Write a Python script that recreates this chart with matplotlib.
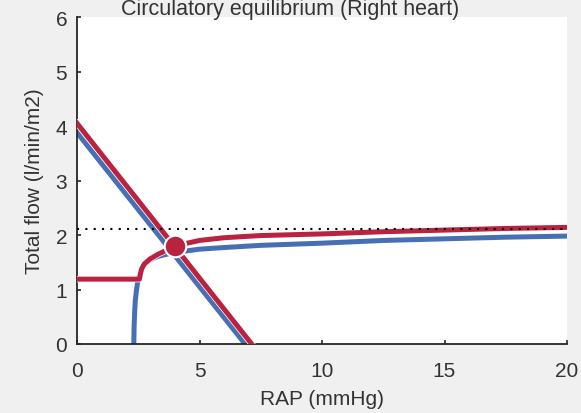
import matplotlib
matplotlib.use("Agg")
import matplotlib.pyplot as plt
import matplotlib.patheffects as pe

# venous return lines (RAP, flow)
vr_blue_rap = [0.0, 6.86]
vr_blue_flow = [3.88, 0.0]
vr_red_rap = [0.0, 7.13]
vr_red_flow = [4.05, 0.0]

# cardiac output curves
co_blue_rap = [2.32, 2.33, 2.35, 2.38, 2.43, 2.5, 2.62, 2.78, 3.0, 3.25, 3.5,
               4.0, 4.5, 5.0, 6.0, 7.5, 10.0, 12.5, 15.0, 17.5, 20.0]
co_blue_flow = [0.0, 0.3, 0.55, 0.8, 1.0, 1.2, 1.36, 1.47, 1.55, 1.6, 1.63,
                1.68, 1.71, 1.74, 1.77, 1.81, 1.85, 1.9, 1.93, 1.96, 1.98]
co_red_rap = [0.0, 2.55, 2.58, 2.64, 2.75, 2.98, 3.32, 3.7, 4.0, 4.5, 5.0,
              6.0, 7.5, 10.0, 12.5, 15.0, 17.5, 20.0]
co_red_flow = [1.19, 1.19, 1.27, 1.38, 1.47, 1.56, 1.65, 1.73, 1.78, 1.85, 1.9,
               1.95, 1.99, 2.02, 2.06, 2.09, 2.12, 2.14]

target_flow = 2.11
eq_rap = [4.0]
eq_flow = [1.79]

x_ticks = [0, 5, 10, 15, 20]
y_ticks = [0, 1, 2, 3, 4, 5, 6]

_BLUE = "#4670b3"
_RED = "#b92340"
_TEXT = "#333333"
_AXIS = "#262626"


def _main():
    plt.rcParams["font.family"] = ["Liberation Sans", "DejaVu Sans"]
    fig = plt.figure(figsize=(5.81, 4.14), dpi=100, facecolor="#f0f0f0")
    ax = fig.add_axes([77 / 581, 1 - 345 / 414, 490 / 581, 327 / 414])
    ax.set_facecolor("white")

    outline = [pe.Stroke(linewidth=4.6, foreground="white"), pe.Normal()]
    ax.plot(vr_blue_rap, vr_blue_flow, color=_BLUE, lw=3.6, path_effects=outline, zorder=2)
    ax.plot(co_blue_rap, co_blue_flow, color=_BLUE, lw=3.6, path_effects=outline, zorder=2)
    ax.plot(vr_red_rap, vr_red_flow, color=_RED, lw=3.6, path_effects=outline, zorder=3)
    ax.plot(co_red_rap, co_red_flow, color=_RED, lw=3.6, path_effects=outline, zorder=3)
    ax.axhline(target_flow, color="black", lw=1.5, linestyle=(0, (1, 3)), zorder=4)
    ax.plot(eq_rap, eq_flow, "o", color=_RED, markersize=15.5, markeredgecolor="white",
            markeredgewidth=1.5, zorder=5)

    ax.set_xlim(0, 20)
    ax.set_ylim(0, 6)
    ax.set_xticks(x_ticks)
    ax.set_yticks(y_ticks)
    for side in ("top", "right"):
        ax.spines[side].set_visible(False)
    for side in ("left", "bottom"):
        ax.spines[side].set_color(_AXIS)
        ax.spines[side].set_linewidth(1.3)
    ax.tick_params(direction="in", length=3, width=1.2, color=_AXIS,
                   labelsize=15, labelcolor=_TEXT)
    ax.tick_params(axis="x", pad=12)
    ax.tick_params(axis="y", pad=7)

    ax.set_xlabel("RAP (mmHg)", fontsize=15, color=_TEXT, labelpad=7)
    ax.set_ylabel("Total flow (l/min/m2)", fontsize=15, color=_TEXT, labelpad=8)
    fig.text(290 / 581, 1 - 15 / 414, "Circulatory equilibrium (Right heart)",
             fontsize=15.5, color=_TEXT, ha="center", va="baseline")

    fig.savefig("out.png", dpi=100, facecolor=fig.get_facecolor())


if __name__ == "__main__":
    _main()
